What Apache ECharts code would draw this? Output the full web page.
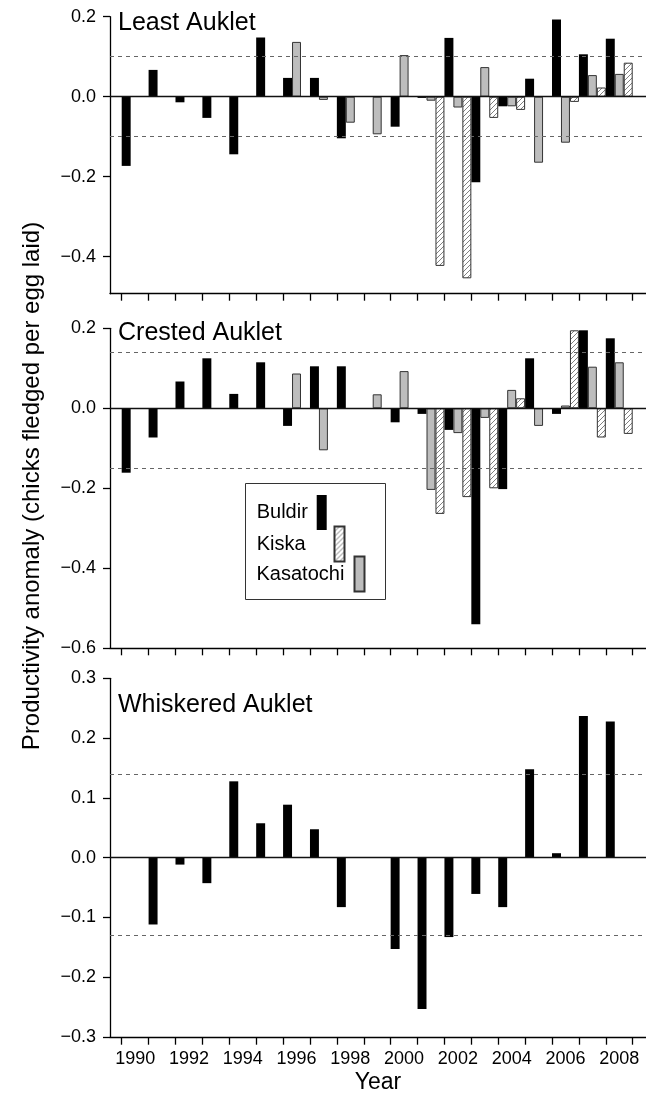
<!DOCTYPE html>
<html><head><meta charset="utf-8">
<script src="https://cdn.jsdelivr.net/npm/echarts@6/dist/echarts.min.js"></script>
<style>html,body{margin:0;padding:0;background:#fff}#c{width:646px;height:1095px}</style>
</head><body><div id="c"></div>
<script>
// ---------- data ----------
const years = ['1990','1991','1992','1993','1994','1995','1996','1997','1998','1999',
               '2000','2001','2002','2003','2004','2005','2006','2007','2008'];

// Least Auklet
const leastBuldir    = [-0.173, 0.067, -0.014, -0.053, -0.144, 0.148, 0.047, 0.047, -0.104, null,
                        -0.075, -0.003, 0.147, -0.214, -0.024, 0.045, 0.193, 0.106, 0.145];
const leastKasatochi = [null, null, null, null, null, null, 0.137, -0.008, -0.065, -0.094,
                        0.104, -0.010, -0.027, 0.074, -0.024, -0.165, -0.115, 0.054, 0.057];
const leastKiska     = [null, null, null, null, null, null, null, null, null, null,
                        null, -0.423, -0.454, -0.053, -0.033, null, -0.013, 0.023, 0.085];
const leastThresh    = [0.100, -0.102];
const leastTicks     = [-0.4, -0.2, 0, 0.2];

// Crested Auklet
const crestBuldir    = [-0.161, -0.073, 0.067, 0.125, 0.036, 0.115, -0.044, 0.105, 0.105, null,
                        -0.035, -0.014, -0.054, -0.540, -0.202, 0.125, -0.014, 0.195, 0.175];
const crestKasatochi = [null, null, null, null, null, null, 0.087, -0.105, null, 0.035,
                        0.093, -0.204, -0.062, -0.024, 0.046, -0.044, 0.007, 0.104, 0.115];
const crestKiska     = [null, null, null, null, null, null, null, null, null, null,
                        null, -0.264, -0.222, -0.200, 0.025, null, 0.195, -0.073, -0.064];
const crestThresh    = [0.141, -0.146];
const crestTicks     = [-0.6, -0.4, -0.2, 0, 0.2];

// Whiskered Auklet (Buldir only)
const whiskBuldir    = [null, -0.111, -0.011, -0.042, 0.128, 0.058, 0.089, 0.048, -0.082, null,
                        -0.152, -0.252, -0.132, -0.060, -0.082, 0.148, 0.008, 0.237, 0.228];
const whiskThresh    = [0.137, -0.133];
const whiskTicks     = [-0.3, -0.2, -0.1, 0, 0.1, 0.2, 0.3];

const legendNames = ['Buldir', 'Kiska', 'Kasatochi'];

// ---------- styling ----------
const FONT = '"Liberation Sans", Arial, Helvetica, sans-serif';
const pc = document.createElement('canvas');
pc.width = 5; pc.height = 5;
const g = pc.getContext('2d');
g.fillStyle = '#fff'; g.fillRect(0, 0, 5, 5);
g.strokeStyle = '#808080'; g.lineWidth = 1;
g.beginPath();
g.moveTo(0, 5); g.lineTo(5, 0);
g.moveTo(-1, 1); g.lineTo(1, -1);
g.moveTo(4, 6); g.lineTo(6, 4);
g.stroke();

const styles = {
  Buldir:    { color: '#000' },
  Kasatochi: { color: '#bdbdbd', borderColor: '#333', borderWidth: 1 },
  Kiska:     { color: { image: pc, repeat: 'repeat' }, borderColor: '#333', borderWidth: 1 }
};

const panels = [
  { title: 'Least Auklet', range: [-0.4925, 0.2], ticks: leastTicks, thr: leastThresh,
    top: 16.7, height: 277, titleTop: 10.5,
    data: { Buldir: leastBuldir, Kasatochi: leastKasatochi, Kiska: leastKiska } },
  { title: 'Crested Auklet', range: [-0.6, 0.2], ticks: crestTicks, thr: crestThresh,
    top: 328.3, height: 320, titleTop: 320.5,
    data: { Buldir: crestBuldir, Kasatochi: crestKasatochi, Kiska: crestKiska } },
  { title: 'Whiskered Auklet', range: [-0.3, 0.3], ticks: whiskTicks, thr: whiskThresh,
    top: 678.3, height: 359.4, titleTop: 692.5,
    data: { Buldir: whiskBuldir, Kasatochi: [], Kiska: [] } }
];

const fmt = v => (v < 0 ? '\u2212' : '') + Math.abs(v).toFixed(1);
const axisLineStyle = { color: '#000', width: 1.3 };

const grid = [], xAxis = [], yAxis = [], series = [], title = [];
panels.forEach((p, i) => {
  const last = i === panels.length - 1;
  const fi = 2 * i, bi = 2 * i + 1;
  grid.push({ left: 110, right: 0, top: p.top, height: p.height });
  grid.push({ left: 121.7, right: 13.3, top: p.top, height: p.height });

  xAxis.push({
    gridIndex: fi, type: 'value', min: 0, max: 1,
    axisLine: { show: true, onZero: false, lineStyle: axisLineStyle },
    axisTick: { show: false }, axisLabel: { show: false }, splitLine: { show: false },
    name: last ? 'Year' : '', nameLocation: 'middle', nameGap: 34,
    nameTextStyle: { fontSize: 23, color: '#000', fontFamily: FONT }
  });
  xAxis.push({
    gridIndex: bi, type: 'category', data: years, boundaryGap: true,
    axisLine: { show: false, onZero: false },
    axisTick: { show: true, interval: 0, length: 7, lineStyle: axisLineStyle },
    axisLabel: { show: last, interval: 1, fontSize: 18, color: '#000', margin: 12, fontFamily: FONT },
    splitLine: { show: false }
  });

  yAxis.push({
    gridIndex: fi, type: 'value', min: p.range[0], max: p.range[1],
    axisLine: { show: true, onZero: false, lineStyle: axisLineStyle },
    axisTick: { show: true, length: 7, customValues: p.ticks, lineStyle: axisLineStyle },
    axisLabel: { customValues: p.ticks, formatter: fmt, fontSize: 18, color: '#000', margin: 14, fontFamily: FONT },
    splitLine: { show: false }
  });
  yAxis.push({ gridIndex: bi, type: 'value', min: p.range[0], max: p.range[1], show: false });

  series.push({
    type: 'line', xAxisIndex: fi, yAxisIndex: fi, data: [], z: 1, silent: true,
    markLine: {
      silent: true, symbol: 'none', label: { show: false }, animation: false,
      data: [
        { yAxis: p.thr[0], lineStyle: { color: '#666', width: 1, type: [4, 4] } },
        { yAxis: p.thr[1], lineStyle: { color: '#666', width: 1, type: [4, 4] } },
        { yAxis: 0, lineStyle: { color: '#111', width: 1.4, type: 'solid' } }
      ]
    }
  });

  ['Buldir', 'Kasatochi', 'Kiska'].forEach(name => {
    series.push({
      name, type: 'bar', xAxisIndex: bi, yAxisIndex: bi, z: 3,
      data: p.data[name], barGap: '0%', barCategoryGap: '0%',
      itemStyle: styles[name], silent: true
    });
  });

  title.push({
    text: p.title, left: 118, top: p.titleTop, padding: 0,
    textStyle: { fontSize: 25, fontWeight: 'normal', color: '#000', fontFamily: FONT, lineHeight: 25 }
  });
});

// legend: one item per component so the bar icons are staggered like in a year slot
const legendWidths = { Buldir: 55, Kiska: 72.8, Kasatochi: 93 };
const legendBase = {
  orient: 'vertical', itemWidth: 10, itemHeight: 35, itemGap: 0,
  align: 'right', icon: 'rect', selectedMode: false,
  formatter: name => '{t|' + name + '}'
};
const legendText = name => ({
  fontSize: 20, color: '#000', fontFamily: FONT,
  rich: { t: { width: legendWidths[name], align: 'left', fontSize: 20, fontFamily: FONT, color: '#000' } }
});
const legend = [
  Object.assign({}, legendBase, {
    data: ['Kasatochi'], left: 245.5, top: 483.5, padding: [72, 20, 7, 11], z: 4,
    borderColor: '#333', borderWidth: 1, backgroundColor: '#fff', textStyle: legendText('Kasatochi')
  }),
  Object.assign({}, legendBase, {
    data: ['Buldir'], left: 256.7, top: 495, padding: 0, z: 6, textStyle: legendText('Buldir')
  }),
  Object.assign({}, legendBase, {
    data: ['Kiska'], left: 256.7, top: 525.5, padding: 0, z: 6, textStyle: legendText('Kiska')
  })
];

const chart = echarts.init(document.getElementById('c'), null, { renderer: 'canvas' });
chart.setOption({
  animation: false,
  backgroundColor: '#fff',
  textStyle: { fontFamily: FONT },
  title, grid, xAxis, yAxis, series, legend,
  graphic: [{
    type: 'text', x: 32, y: 486, rotation: Math.PI / 2, silent: true,
    style: {
      text: 'Productivity anomaly (chicks fledged per egg laid)',
      font: '24px "Liberation Sans", Arial, sans-serif', fill: '#000',
      align: 'center', verticalAlign: 'middle'
    }
  }]
});
</script></body></html>
